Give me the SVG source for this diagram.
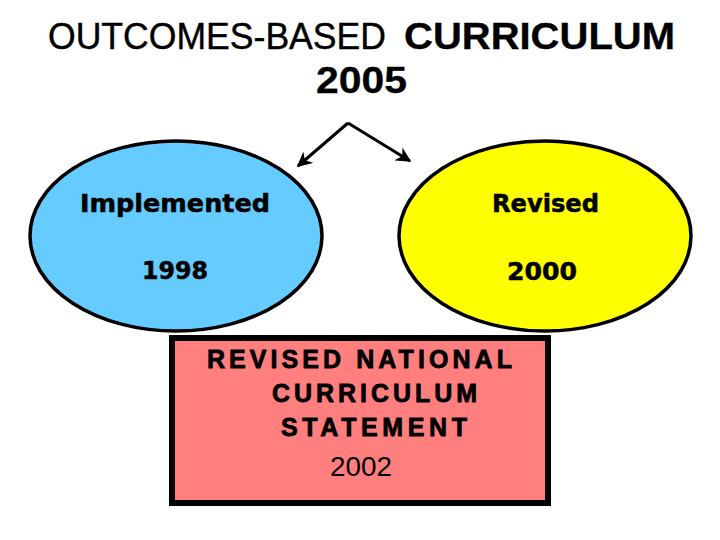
<svg xmlns="http://www.w3.org/2000/svg" width="720" height="540" viewBox="0 0 720 540">
<style>
.title{font-family:"Liberation Sans",Arial,sans-serif;font-size:36px;fill:#000;stroke:#000;stroke-width:0.4}
.tb{font-weight:bold;stroke-width:0.3}
.el{stroke:#000;stroke-width:3.5}
.etxt{font-family:"DejaVu Sans",Verdana,sans-serif;font-weight:bold;font-size:24px;fill:#000;stroke:#000;stroke-width:0.5}
.rtxt{font-family:"Liberation Sans",Arial,sans-serif;font-weight:bold;font-size:25px;fill:#000;stroke:#000;stroke-width:0.8}
.conn{stroke:#000;stroke-width:3;fill:none}
</style>
<defs>
<marker id="ah" viewBox="0 0 10 10" refX="9" refY="5" markerWidth="5" markerHeight="5" orient="auto" markerUnits="strokeWidth">
<path d="M0,0 L10,5 L0,10 L3,5 z" fill="#000"/>
</marker>
</defs>
<rect width="720" height="540" fill="#fff"/>
<g id="title">
<text class="title" x="48" y="49" textLength="338" lengthAdjust="spacingAndGlyphs">OUTCOMES-BASED</text>
<text class="title tb" x="404" y="49" textLength="271" lengthAdjust="spacingAndGlyphs">CURRICULUM</text>
<text class="title tb" x="316" y="93" textLength="91" lengthAdjust="spacingAndGlyphs">2005</text>
</g>
<g id="connectors">
<path class="conn" d="M348,123 L298,166" marker-end="url(#ah)"/>
<path class="conn" d="M348,123 L410,161" marker-end="url(#ah)"/>
</g>
<g id="implemented">
<ellipse class="el" cx="176" cy="236" rx="146" ry="95" fill="#66CCFF"/>
<text class="etxt" x="80" y="212" textLength="190" lengthAdjust="spacingAndGlyphs">Implemented</text>
<text class="etxt" x="142" y="279" textLength="66" lengthAdjust="spacingAndGlyphs">1998</text>
</g>
<g id="revised">
<ellipse class="el" cx="545" cy="236" rx="146" ry="95" fill="#FFFF00"/>
<text class="etxt" x="492" y="212" textLength="107" lengthAdjust="spacingAndGlyphs">Revised</text>
<text class="etxt" x="507" y="280" textLength="70" lengthAdjust="spacingAndGlyphs">2000</text>
</g>
<g id="rncs">
<rect x="172" y="338" width="376" height="165" fill="#FF7F7F" stroke="#000" stroke-width="6"/>
<text class="rtxt" x="207" y="368" textLength="305" lengthAdjust="spacing">REVISED NATIONAL</text>
<text class="rtxt" x="272" y="402" textLength="205" lengthAdjust="spacing">CURRICULUM</text>
<text class="rtxt" x="281" y="436" textLength="186" lengthAdjust="spacing">STATEMENT</text>
<text x="330" y="476" font-family="'Liberation Sans',Arial,sans-serif" font-size="27" textLength="62" lengthAdjust="spacingAndGlyphs">2002</text>
</g>
</svg>
